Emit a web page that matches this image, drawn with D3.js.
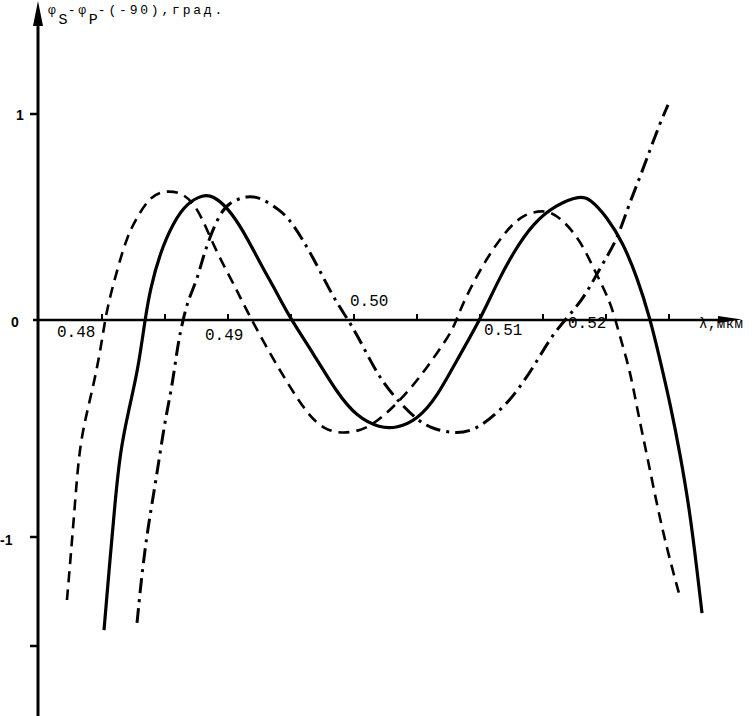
<!DOCTYPE html>
<html>
<head>
<meta charset="utf-8">
<script src="https://cdn.jsdelivr.net/npm/d3@7"></script>
<style>
  html, body { margin: 0; padding: 0; background: #fff; }
  svg { display: block; }
  text { fill: #000; }
</style>
</head>
<body>
<svg id="chart" width="752" height="716"></svg>
<script>
// ---------- DATA ----------
const xTicks = [0.48, 0.485, 0.49, 0.495, 0.50, 0.505, 0.51, 0.515, 0.52, 0.525];
const xTickLabels = ["0.48", "0.49", "0.50", "0.51", "0.52"];
const xLabelValues = [0.48, 0.49, 0.50, 0.51, 0.52];
const yTicks = [1, 0, -1, -1.5];
const yTickLabels = ["1", "0", "-1", ""];

const solidLambda = [0.48016,0.48063,0.48103,0.48143,0.48206,0.48286,0.48341,0.48381,0.48460,0.48563,0.48675,0.48802,0.48881,0.48992,0.49119,0.49254,0.49389,0.49492,0.49675,0.49865,0.50024,0.50206,0.50341,0.50500,0.50659,0.50817,0.51000,0.51135,0.51262,0.51421,0.51611,0.51794,0.51873,0.52008,0.52135,0.52246,0.52349,0.52429,0.52508,0.52587,0.52667,0.52722,0.52762];
const solidValues = [-1.427,-1.106,-0.843,-0.613,-0.429,-0.230,0.000,0.146,0.325,0.471,0.568,0.608,0.603,0.549,0.437,0.277,0.131,0.010,-0.152,-0.336,-0.447,-0.498,-0.498,-0.461,-0.355,-0.184,0.000,0.180,0.325,0.471,0.562,0.603,0.589,0.500,0.374,0.209,0.010,-0.184,-0.382,-0.613,-0.889,-1.151,-1.349];

const dashedLambda = [0.47722,0.47754,0.47786,0.47817,0.47865,0.47929,0.47984,0.48024,0.48063,0.48127,0.48198,0.48278,0.48381,0.48484,0.48619,0.48722,0.48802,0.48913,0.49016,0.49095,0.49175,0.49349,0.49492,0.49627,0.49754,0.49913,0.50103,0.50262,0.50389,0.50524,0.50659,0.50786,0.50841,0.50944,0.51079,0.51214,0.51341,0.51532,0.51659,0.51794,0.51897,0.51976,0.52048,0.52111,0.52190,0.52254,0.52333,0.52413,0.52492,0.52587];
const dashedValues = [-1.289,-1.073,-0.843,-0.613,-0.461,-0.309,-0.152,0.000,0.112,0.257,0.403,0.500,0.597,0.627,0.622,0.573,0.485,0.325,0.209,0.112,0.015,-0.171,-0.309,-0.429,-0.503,-0.526,-0.503,-0.429,-0.355,-0.263,-0.152,-0.046,0.049,0.180,0.325,0.437,0.514,0.539,0.485,0.388,0.257,0.160,0.063,-0.078,-0.230,-0.429,-0.645,-0.876,-1.073,-1.275];

const dashDotLambda = [0.48278,0.48317,0.48365,0.48429,0.48500,0.48556,0.48603,0.48643,0.48683,0.48754,0.48802,0.48857,0.48937,0.49016,0.49151,0.49254,0.49413,0.49508,0.49675,0.49833,0.49944,0.50024,0.50127,0.50230,0.50365,0.50500,0.50627,0.50817,0.50976,0.51135,0.51262,0.51437,0.51579,0.51770,0.51873,0.51976,0.52087,0.52175,0.52270,0.52349,0.52429,0.52492];
const dashDotValues = [-1.394,-1.165,-0.954,-0.737,-0.461,-0.309,-0.106,0.000,0.097,0.194,0.306,0.403,0.519,0.573,0.603,0.597,0.534,0.476,0.306,0.112,0.010,-0.069,-0.184,-0.290,-0.382,-0.461,-0.503,-0.526,-0.503,-0.429,-0.355,-0.207,-0.060,0.063,0.160,0.277,0.388,0.549,0.694,0.825,0.956,1.044];

const yTitle = ["φ", "S", "-φ", "P", "-(-90),град."];
const xTitle = "λ,мкм";

// ---------- LAYOUT ----------
const svg = d3.select("#chart");
const axisX0 = 38;
const x = d3.scaleLinear().domain([0.48, 0.525]).range([102, 669]);
const y = d3.scaleLinear().domain([1, 0, -1, -1.5]).range([114, 320, 537, 646]);
const y0 = y(0);

// y axis
svg.append("line").attr("x1", axisX0).attr("x2", axisX0).attr("y1", 18).attr("y2", 716)
  .attr("stroke", "#000").attr("stroke-width", 3);
svg.append("path").attr("d", `M${axisX0},1 L${axisX0 - 5},26 L${axisX0 + 5},26 Z`).attr("fill", "#000");

// y ticks
svg.selectAll(".ytick").data(yTicks.filter(d => d !== 0)).enter().append("line")
  .attr("x1", axisX0 - 8).attr("x2", axisX0).attr("y1", d => y(d)).attr("y2", d => y(d))
  .attr("stroke", "#000").attr("stroke-width", 2.5);
const yLabelPos = {"1": [16, 6], "0": [11, 7], "-1": [0, 8]};
svg.selectAll(".ylab").data(yTicks.map((d, i) => ({v: d, t: yTickLabels[i]})).filter(d => d.t)).enter()
  .append("text")
  .attr("x", d => yLabelPos[d.t][0]).attr("y", d => y(d.v) + yLabelPos[d.t][1])
  .attr("font-family", "Liberation Sans, Arial, sans-serif").attr("font-weight", "bold")
  .attr("font-size", 14).text(d => d.t);

// x axis
svg.append("line").attr("x1", 33).attr("x2", 728).attr("y1", y0).attr("y2", y0)
  .attr("stroke", "#000").attr("stroke-width", 2.5);
svg.append("path").attr("d", `M742,${y0 - 0.5} L718,${y0 - 4} L718,${y0 + 3} Z`).attr("fill", "#000");

svg.selectAll(".xtick").data(xTicks).enter().append("line")
  .attr("x1", d => x(d)).attr("x2", d => x(d)).attr("y1", y0).attr("y2", y0 - 6)
  .attr("stroke", "#000").attr("stroke-width", 2);

const xLabelOffset = [[-45, 17], [-23, 20], [-4, -14], [4, 15], [-38, 8]];
svg.selectAll(".xlab").data(xLabelValues).enter().append("text")
  .attr("x", (d, i) => x(d) + xLabelOffset[i][0])
  .attr("y", (d, i) => y0 + xLabelOffset[i][1])
  .attr("font-family", "Liberation Mono, DejaVu Sans Mono, monospace")
  .attr("font-size", 16).text((d, i) => xTickLabels[i]);

svg.append("text").attr("x", 699).attr("y", y0 + 8)
  .attr("font-family", "Liberation Mono, DejaVu Sans Mono, monospace")
  .attr("font-size", 14).attr("letter-spacing", 0.5).text(xTitle);

// y title
const yt = svg.append("text").attr("x", 48).attr("y", 14)
  .attr("font-family", "Liberation Mono, DejaVu Sans Mono, monospace")
  .attr("font-size", 13).attr("letter-spacing", 2.8);
yt.append("tspan").text(yTitle[0]);
yt.append("tspan").attr("dy", 10).attr("font-size", 15).attr("letter-spacing", 0).text(yTitle[1]);
yt.append("tspan").attr("dy", -10).text(yTitle[2]);
yt.append("tspan").attr("dy", 10).attr("font-size", 15).attr("letter-spacing", 0).text(yTitle[3]);
yt.append("tspan").attr("dy", -10).text(yTitle[4]);

// curves
const line = d3.line().x(d => x(d[0])).y(d => y(d[1])).curve(d3.curveBasis);
const series = [
  {lam: solidLambda, val: solidValues, dash: null, w: 3.2},
  {lam: dashedLambda, val: dashedValues, dash: "11,7", w: 2.6},
  {lam: dashDotLambda, val: dashDotValues, dash: "15,6,3,6", w: 3}
];
series.forEach(s => {
  svg.append("path").datum(s.lam.map((l, i) => [l, s.val[i]]))
    .attr("d", line).attr("fill", "none").attr("stroke", "#000")
    .attr("stroke-width", s.w).attr("stroke-dasharray", s.dash);
});
</script>
</body>
</html>
